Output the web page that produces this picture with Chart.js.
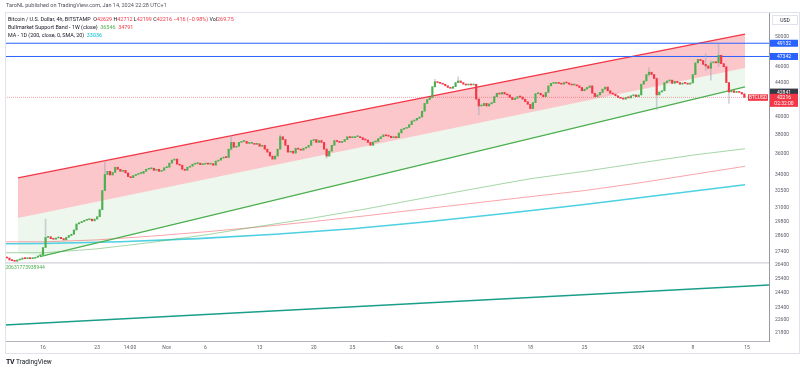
<!DOCTYPE html>
<html>
<head>
<meta charset="utf-8">
<script src="https://cdn.jsdelivr.net/npm/chart.js@4.4.1/dist/chart.umd.min.js"></script>
<style>
  html, body { margin: 0; padding: 0; background: #fff; }
  #wrap { position: relative; width: 800px; height: 370px; font-family: Roboto, 'Liberation Sans', sans-serif; }
  #chart { position: absolute; left: 0; top: 0; }
  .frame { position: absolute; left: 5px; top: 12px; width: 795px; height: 342px; border: 1px solid #e0e3eb; box-sizing: border-box; }
  .hdr { position: absolute; left: 6px; top: 2px; font-size: 5.5px; color: #50535e; white-space: nowrap; }
  .legend { position: absolute; left: 8px; top: 15px; font-size: 5.4px; line-height: 8px; color: #131722; white-space: nowrap; }
  .legend .r { color: #f23645; }
  .legend .g { color: #4caf50; }
  .legend .c { color: #00bcd4; }
  .usd { position: absolute; left: 772px; top: 15px; width: 24px; height: 8px; border: 1px solid #e0e3eb; font-size: 5px; line-height: 8px; text-align: center; color: #131722; }
  .logo { position: absolute; left: 6px; top: 358px; font-size: 6.5px; color: #131722; white-space: nowrap; }
  .logo b { font-size: 7px; letter-spacing: -0.5px; margin-right: 2px; }
</style>
</head>
<body>
<div id="wrap">
  <canvas id="chart" width="800" height="370"></canvas>
  <div class="frame"></div>
  <div class="hdr">TaroNL published on TradingView.com, Jan 14, 2024 22:28 UTC+1</div>
  <div class="legend">
    <div>Bitcoin / U.S. Dollar, 4h, BITSTAMP &nbsp;O<span class="r">42629</span> H<span class="r">42712</span> L<span class="r">42199</span> C<span class="r">42216</span> <span class="r">−416 (−0.98%)</span> Vol<span class="r">269.75</span></div>
    <div>Bullmarket Support Band - 1W (close) &nbsp;<span class="g">36546</span> &nbsp;<span class="r">34791</span></div>
    <div>MA - 1D (200, close, 0, SMA, 20) &nbsp;<span class="c">33036</span></div>
  </div>
  <div class="usd">USD</div>
  <div class="logo"><b>TV</b>TradingView</div>
</div>
<script>
// time axis is in days, day 0 = Oct 16 2023
const xMin = -4.91;
const xMax = 93.85;
const xTickDays = [0, 7, 11.25, 16, 21, 28, 35, 40, 46, 51, 56, 63, 70, 77, 84, 91];
const xTickLabels = ['16', '23', '14:00', 'Nov', '6', '13', '20', '25', 'Dec', '6', '11', '18', '25', '2024', '8', '15'];

const yMin = 21312;
const yMax = 53632;
const yTicks = [21800, 22600, 23400, 24400, 25400, 26400, 27400, 28600, 29800, 31000, 32500, 34000, 36000, 38000, 40000, 44000, 46000, 50000];

// 8h candles, first one opens Oct 11 08:00
const candleStartDay = -4.667;
const firstOpen = 26950;
const closes = [
  26900, 26750,          // Oct 11
  26700, 26650, 26750,   // Oct 12
  26800, 26900, 26850,   // Oct 13
  26900, 26850, 26880,   // Oct 14
  26950, 27050, 27150,   // Oct 15
  27700, 28500, 28550,   // Oct 16
  28400, 28350, 28450,   // Oct 17
  28500, 28400, 28300,   // Oct 18
  28500, 28650, 28750,   // Oct 19
  29100, 29600, 29700,   // Oct 20
  29800, 29900, 29950,   // Oct 21
  30000, 29850, 30000,   // Oct 22
  30200, 30800, 32500,   // Oct 23
  34000, 34300, 33950,   // Oct 24
  34200, 34700, 34500,   // Oct 25
  34300, 34400, 34150,   // Oct 26
  33800, 33700, 33900,   // Oct 27
  34000, 34100, 34100,   // Oct 28
  34300, 34500, 34550,   // Oct 29
  34600, 34400, 34500,   // Oct 30
  34300, 34400, 34650,   // Oct 31
  34700, 35100, 35400,   // Nov 1
  35500, 35000, 34900,   // Nov 2
  34500, 34400, 34700,   // Nov 3
  34800, 35000, 35050,   // Nov 4
  35100, 34950, 35000,   // Nov 5
  35100, 35000, 35050,   // Nov 6
  34900, 35300, 35400,   // Nov 7
  35600, 35700, 35650,   // Nov 8
  36500, 37200, 36700,   // Nov 9
  36800, 37200, 37300,   // Nov 10
  37300, 37100, 37100,   // Nov 11
  37100, 37000, 37050,   // Nov 12
  36800, 36900, 36500,   // Nov 13
  36200, 35800, 35500,   // Nov 14
  35800, 36500, 37800,   // Nov 15
  37500, 36900, 36200,   // Nov 16
  36300, 36100, 36600,   // Nov 17
  36500, 36400, 36600,   // Nov 18
  36700, 36900, 37400,   // Nov 19
  37500, 37200, 37400,   // Nov 20
  37200, 36500, 35800,   // Nov 21
  36300, 36900, 37400,   // Nov 22
  37300, 37200, 37300,   // Nov 23
  37500, 37800, 37700,   // Nov 24
  37700, 37800, 37800,   // Nov 25
  37700, 37500, 37450,   // Nov 26
  37200, 36900, 37250,   // Nov 27
  37300, 37600, 37800,   // Nov 28
  38000, 37900, 37850,   // Nov 29
  37700, 37800, 37700,   // Nov 30
  38200, 38600, 38700,   // Dec 1
  38800, 39100, 39500,   // Dec 2
  39600, 39800, 39950,   // Dec 3
  40600, 41500, 41950,   // Dec 4
  42200, 43500, 44100,   // Dec 5
  44000, 43900, 43800,   // Dec 6
  43600, 43400, 43300,   // Dec 7
  43500, 44000, 44200,   // Dec 8
  44000, 43800, 43700,   // Dec 9
  43800, 43700, 43800,   // Dec 10
  42000, 41200, 41250,   // Dec 11
  41500, 41200, 41450,   // Dec 12
  41600, 42300, 42700,   // Dec 13
  42600, 42800, 42600,   // Dec 14
  42500, 42200, 41950,   // Dec 15
  42100, 42300, 42250,   // Dec 16
  42000, 41700, 41400,   // Dec 17
  40900, 41600, 42650,   // Dec 18
  42700, 42500, 42300,   // Dec 19
  42800, 43600, 43900,   // Dec 20
  43900, 44000, 43900,   // Dec 21
  43800, 44000, 43950,   // Dec 22
  43800, 43700, 43700,   // Dec 23
  43600, 43400, 43000,   // Dec 24
  43200, 43400, 43600,   // Dec 25
  42700, 42300, 42500,   // Dec 26
  42800, 43200, 43450,   // Dec 27
  43000, 42700, 42600,   // Dec 28
  42400, 42200, 42100,   // Dec 29
  42000, 42200, 42150,   // Dec 30
  42400, 42500, 42300,   // Dec 31
  42500, 43800, 44200,   // Jan 1
  45000, 45300, 45000,   // Jan 2
  44500, 42500, 42850,   // Jan 3
  43000, 44000, 44200,   // Jan 4
  44300, 43900, 44150,   // Jan 5
  44000, 43800, 43950,   // Jan 6
  43900, 43800, 43950,   // Jan 7
  45000, 46500, 46950,   // Jan 8
  46800, 46300, 46100,   // Jan 9
  45800, 46500, 46650,   // Jan 10
  46500, 47500, 46400,   // Jan 11
  46000, 44000, 42850,   // Jan 12
  43000, 42800, 42850,   // Jan 13
  42800, 42600, 42216    // Jan 14
];

// visible wicks only
const wickDays  = [0.333, 8.0, 24.333, 30.667, 36.667, 50.667, 53.667, 56.333, 78.333, 79.333, 85.667, 86.333, 87.333, 88.667, 90.667];
const wickLows  = [28000, 33500, 36400, 37000, 35600, 43400, 44000, 40200, 44800, 40800, 45500, 44300, 46000, 41500, 42200];
const wickHighs = [30000, 35200, 37900, 38000, 36600, 44400, 44700, 42100, 45900, 44600, 47700, 46800, 49050, 43500, 42750];

// Bullmarket support band (1W) and 200D MA
const bandDays = [-4.91, 0.3, 7, 14, 21, 28, 35, 42, 49, 56, 63, 70, 77, 84, 90.75];
const ema21w = [27300, 27300, 27600, 28100, 28700, 29400, 30100, 30900, 31800, 32700, 33600, 34300, 35100, 35900, 36546];
const sma20w = [28150, 28150, 28300, 28600, 28950, 29350, 29800, 30300, 30850, 31400, 31950, 32500, 33200, 34000, 34791];
const maDays = [-4.91, 0, 10, 20, 30, 40, 50, 60, 70, 80, 90.75];
const ma200d = [28000, 28020, 28150, 28400, 28750, 29200, 29800, 30500, 31250, 32100, 33036];

// drawings
const channelDays = [-3.23, 90.75];
const channelTop = [33670, 50420];
const channelMid = [30100, 45840];
const channelBottomDays = [-3.23, -0.39, 90.75];
const channelBottom = [27300, 27000, 43460];
const supportDays = [-0.39, 90.75];
const supportLine = [27000, 43460];
const longTrendDays = [-4.91, 93.85];
const longTrend = [22290, 24935];
const hLevel = 26530;
const hLevelText = '20631773938944';
const blueLevels = [49132, 47342];
const lastPrice = 42216;
const prevLevel = 42841;
const countdown = '02:32:00';

const UP = '#4caf50';
const DOWN = '#f23645';

function pts(days, vals) {
  return days.map((d, i) => ({ x: d, y: vals[i] }));
}
function flat(v) {
  return [{ x: xMin, y: v }, { x: xMax, y: v }];
}

const bodies = [], bodyColors = [];
closes.forEach((c, i) => {
  const o = i === 0 ? firstOpen : closes[i - 1];
  bodies.push({ x: candleStartDay + i / 3, y: [o, c] });
  bodyColors.push(c >= o ? UP : DOWN);
});
const wicks = wickDays.map((d, i) => ({ x: d, y: [wickLows[i], wickHighs[i]] }));

const lineBase = { type: 'line', pointRadius: 0, tension: 0, borderWidth: 1 };

const datasets = [
  { type: 'bar', data: bodies, backgroundColor: bodyColors, barThickness: 1.5, minBarLength: 1, grouped: false, order: 0 },
  { type: 'bar', data: wicks, backgroundColor: 'rgba(160,168,182,0.5)', barThickness: 1, grouped: false, order: 1 },
  // 2: channel top (red) fills to mid
  { ...lineBase, data: pts(channelDays, channelTop), borderColor: '#f23645', borderWidth: 1.3,
    fill: { target: 3, above: 'rgba(242,54,69,0.28)', below: 'rgba(242,54,69,0.28)' }, order: 10 },
  // 3: channel mid, fills to bottom
  { ...lineBase, data: pts(channelDays, channelMid), borderWidth: 0, borderColor: 'rgba(0,0,0,0)',
    fill: { target: 4, above: 'rgba(76,175,80,0.1)', below: 'rgba(76,175,80,0.1)' }, order: 11 },
  // 4: channel bottom boundary
  { ...lineBase, data: pts(channelBottomDays, channelBottom), borderWidth: 0, borderColor: 'rgba(0,0,0,0)', fill: false, order: 12 },
  { ...lineBase, data: pts(supportDays, supportLine), borderColor: '#4caf50', borderWidth: 1.3, fill: false, order: 5 },
  { ...lineBase, data: pts(bandDays, ema21w), borderColor: 'rgba(76,175,80,0.5)', fill: false, order: 6 },
  { ...lineBase, data: pts(bandDays, sma20w), borderColor: 'rgba(242,54,69,0.45)', fill: false, order: 6 },
  { ...lineBase, data: pts(maDays, ma200d), borderColor: '#4dd0e1', borderWidth: 1.6, fill: false, order: 6 },
  { ...lineBase, data: pts(longTrendDays, longTrend), borderColor: '#1a9e8a', borderWidth: 1.4, fill: false, order: 6 },
  { ...lineBase, data: flat(hLevel), borderColor: '#c3c6ce', fill: false, order: 7 },
  { ...lineBase, data: flat(blueLevels[0]), borderColor: '#2962ff', fill: false, order: 7 },
  { ...lineBase, data: flat(blueLevels[1]), borderColor: '#2962ff', fill: false, order: 7 },
  { ...lineBase, data: flat(lastPrice), borderColor: 'rgba(242,54,69,0.45)', borderDash: [1, 1], fill: false, order: 7 }
];

const priceTags = {
  id: 'priceTags',
  afterDraw(chart) {
    const { ctx, scales: { y }, chartArea } = chart;
    const x0 = chartArea.right + 1;
    ctx.save();
    ctx.font = '5px Roboto';
    ctx.textBaseline = 'middle';
    ctx.textAlign = 'center';
    function tag(v, bg, sub) {
      const py = y.getPixelForValue(v);
      const h = sub ? 13 : 7;
      const top = py - 3.5;
      ctx.fillStyle = bg;
      ctx.fillRect(x0, top, 28, h);
      ctx.fillStyle = '#fff';
      ctx.fillText(String(v), x0 + 14, top + 3.7);
      if (sub) ctx.fillText(sub, x0 + 14, top + 9.7);
    }
    tag(blueLevels[0], '#2962ff');
    tag(blueLevels[1], '#2962ff');
    tag(prevLevel, '#363a45');
    tag(lastPrice, '#f23645', countdown);
    // symbol tag left of the price axis
    const py = y.getPixelForValue(lastPrice);
    ctx.fillStyle = '#f23645';
    ctx.fillRect(chartArea.right - 21, py - 3, 20, 6.5);
    ctx.fillStyle = '#fff';
    ctx.fillText('BTCUSD', chartArea.right - 11, py + 0.3);
    // label under the horizontal level
    const hy = y.getPixelForValue(hLevel);
    ctx.textAlign = 'left';
    ctx.fillStyle = '#4caf50';
    ctx.fillText(hLevelText, chartArea.left + 0.5, hy + 5);
    ctx.restore();
  }
};

new Chart(document.getElementById('chart'), {
  type: 'bar',
  data: { datasets: datasets },
  plugins: [priceTags],
  options: {
    responsive: false,
    animation: false,
    events: [],
    layout: { padding: { left: 5, top: 12, right: 0, bottom: 17 } },
    plugins: { legend: { display: false }, tooltip: { enabled: false } },
    scales: {
      x: {
        type: 'linear', min: xMin, max: xMax, offset: false,
        grid: { display: false, drawTicks: false },
        border: { display: true, color: '#b2b5be', width: 1 },
        afterBuildTicks: s => { s.ticks = xTickDays.map(v => ({ value: v })); },
        afterFit: s => { s.height = 12; },
        ticks: {
          autoSkip: false, maxRotation: 0, padding: 4,
          color: '#5d606b', font: { size: 5, family: 'Roboto' },
          callback: v => xTickLabels[xTickDays.indexOf(v)]
        }
      },
      y: {
        type: 'logarithmic', position: 'right', min: yMin, max: yMax,
        grid: { display: false, drawTicks: false },
        border: { display: true, color: '#9598a1', width: 1 },
        afterBuildTicks: s => { s.ticks = yTicks.map(v => ({ value: v })); },
        afterFit: s => { s.width = 31; },
        ticks: {
          autoSkip: false, padding: 6,
          color: '#5d606b', font: { size: 5, family: 'Roboto' },
          callback: v => String(v)
        }
      }
    }
  }
});
</script>
</body>
</html>
